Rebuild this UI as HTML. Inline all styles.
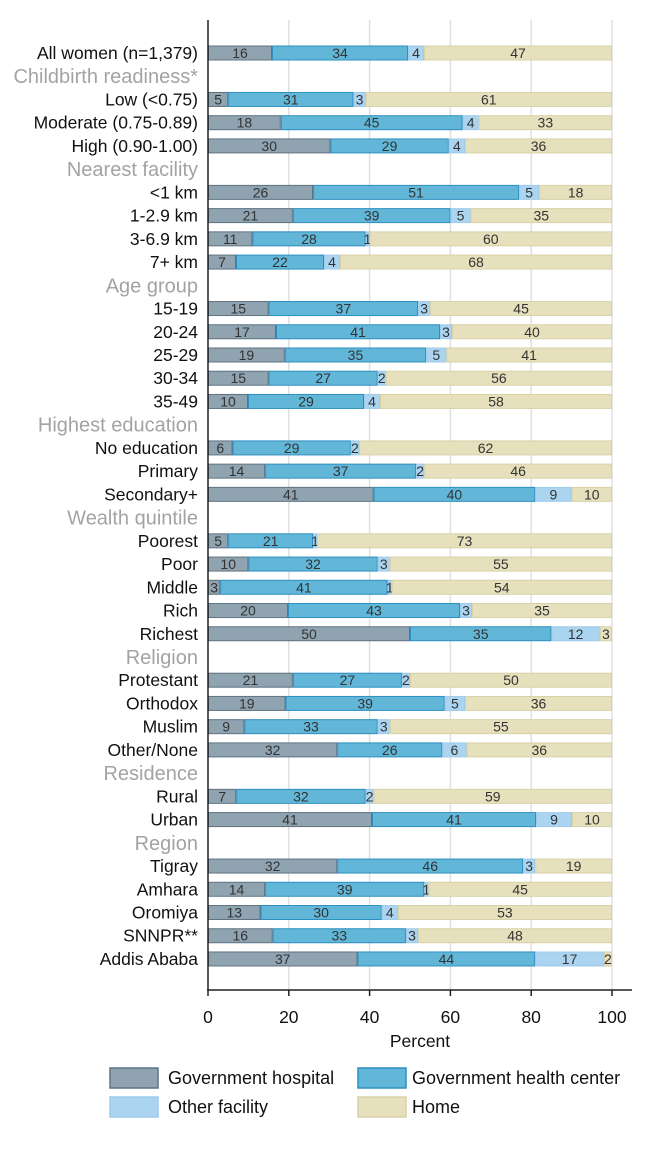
<!DOCTYPE html>
<html><head><meta charset="utf-8"><style>
body{margin:0;background:#fff;}
svg text{font-family:"Liberation Sans",sans-serif;}
</style></head><body>
<svg id="chart" width="656" height="1148" xmlns="http://www.w3.org/2000/svg"></svg>
<script>
const rowLabels=["All women (n=1,379)","#Childbirth readiness*","Low (<0.75)","Moderate (0.75-0.89)","High (0.90-1.00)","#Nearest facility","<1 km","1-2.9 km","3-6.9 km","7+ km","#Age group","15-19","20-24","25-29","30-34","35-49","#Highest education","No education","Primary","Secondary+","#Wealth quintile","Poorest","Poor","Middle","Rich","Richest","#Religion","Protestant","Orthodox","Muslim","Other/None","#Residence","Rural","Urban","#Region","Tigray","Amhara","Oromiya","SNNPR**","Addis Ababa"];
const hospital=[16,null,5,18,30,null,26,21,11,7,null,15,17,19,15,10,null,6,14,41,null,5,10,3,20,50,null,21,19,9,32,null,7,41,null,32,14,13,16,37];
const healthCenter=[34,null,31,45,29,null,51,39,28,22,null,37,41,35,27,29,null,29,37,40,null,21,32,41,43,35,null,27,39,33,26,null,32,41,null,46,39,30,33,44];
const otherFacility=[4,null,3,4,4,null,5,5,1,4,null,3,3,5,2,4,null,2,2,9,null,1,3,1,3,12,null,2,5,3,6,null,2,9,null,3,1,4,3,17];
const home=[47,null,61,33,36,null,18,35,60,68,null,45,40,41,56,58,null,62,46,10,null,73,55,54,35,3,null,50,36,55,36,null,59,10,null,19,45,53,48,2];
const ticks=[0,20,40,60,80,100];
const seriesNames=["Government hospital","Government health center","Other facility","Home"];

const NS="http://www.w3.org/2000/svg";
const svg=document.getElementById('chart');
const x=v=>208+v*4.04;
const y=i=>53+i*23.23;
function mk(t,a){const e=document.createElementNS(NS,t);for(const k in a)e.setAttribute(k,a[k]);svg.appendChild(e);return e;}
const fills=["#8fa3b1","#62b7d8","#abd4f0","#e6e0bd"];
const strokes=["#5f7383","#2e8fc0","#9fcbea","#d8d1a8"];
ticks.forEach(t=>{if(t>0){const g=mk('line',{x1:x(t),x2:x(t),y1:20,y2:990,stroke:'#e0e0e0','stroke-width':1.5});

}});
const series=[hospital,healthCenter,otherFacility,home];
rowLabels.forEach((lab,i)=>{
  const cy=y(i);
  if(lab[0]==='#'){
    const t=mk('text',{x:198,y:cy+7,'text-anchor':'end','font-size':20,fill:'#a3a3a3'});t.textContent=lab.slice(1);
    
    
    return;
  }
  const t=mk('text',{x:198,y:cy+6,'text-anchor':'end','font-size':17.5,fill:'#111'});t.textContent=lab;
  
  
  const vals=series.map(s=>s[i]);const sum=vals.reduce((a,b)=>a+b,0);
  let acc=0;
  vals.forEach((v,k)=>{
    const v0=acc/sum*100, v1=(acc+v)/sum*100; acc+=v;
    const r=mk('rect',{x:x(v0)+0.5,y:cy-7,width:Math.max(x(v1)-x(v0)-1,0.5),height:14,fill:fills[k],stroke:strokes[k],'stroke-width':1});
    
    
    const tv=mk('text',{x:(x(v0)+x(v1))/2,y:cy+5,'text-anchor':'middle','font-size':14,fill:'#333'});tv.textContent=v;
    
    
  });
});
const ya=mk('line',{x1:208,x2:208,y1:20,y2:990,stroke:'#222','stroke-width':1.5});


const xa=mk('line',{x1:207,x2:632,y1:990,y2:990,stroke:'#222','stroke-width':1.5});


ticks.forEach(t=>{
  const tk=mk('line',{x1:x(t),x2:x(t),y1:990,y2:996,stroke:'#222','stroke-width':1.5});
  
  
  const tl=mk('text',{x:x(t),y:1023,'text-anchor':'middle','font-size':17.5,fill:'#111'});tl.textContent=t;
  
  
});
const xt=mk('text',{x:420,y:1047,'text-anchor':'middle','font-size':17.5,fill:'#111'});xt.textContent='Percent';


const lpos=[[110,1068],[358,1068],[110,1097],[358,1097]];
seriesNames.forEach((n,k)=>{
  const [lx,ly]=lpos[k];
  const b=mk('rect',{x:lx,y:ly,width:48,height:20,fill:fills[k],stroke:strokes[k],'stroke-width':1.5});
  
  
  const lt=mk('text',{x:lx+(k%2?54:58),y:ly+16,'font-size':18,fill:'#111'});lt.textContent=n;
  
  
});
</script>
</body></html>
